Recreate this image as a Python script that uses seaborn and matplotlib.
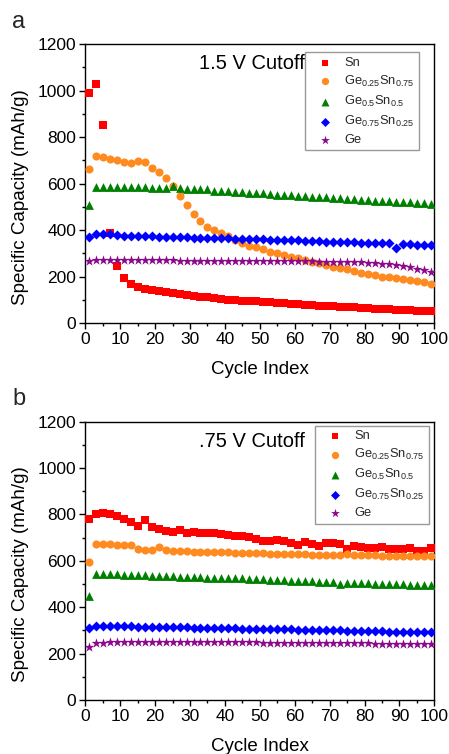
import numpy as np
import pandas as pd
import matplotlib
matplotlib.use("Agg")
import matplotlib.pyplot as plt
import seaborn as sns
from matplotlib.ticker import MultipleLocator

cycles = list(range(1, 100, 2))

# Panel a: 1.5 V cutoff
a_sn = [990, 1030, 850, 388, 245, 195, 170, 158, 148, 143, 138, 133, 130, 127, 122, 119, 115, 112, 108, 105,
        102, 100, 98, 96, 94, 92, 90, 88, 86, 84, 82, 80, 78, 76, 75, 73, 72, 70, 68, 67,
        65, 63, 62, 60, 59, 57, 56, 54, 53, 52]
a_g25 = [661, 720, 716, 707, 701, 694, 690, 699, 692, 666, 650, 626, 591, 548, 508, 469, 439, 415, 399, 386,
         375, 358, 346, 333, 326, 318, 308, 301, 292, 285, 279, 271, 265, 258, 251, 243, 236, 232, 226, 218,
         213, 209, 199, 199, 195, 189, 185, 181, 176, 170]
a_g50 = [510, 585, 585, 586, 586, 586, 585, 585, 584, 583, 582, 580, 588, 580, 579, 578, 577, 575, 570, 569,
         568, 566, 564, 562, 560, 558, 556, 553, 551, 550, 548, 546, 544, 542, 541, 539, 537, 535, 533, 531,
         528, 527, 526, 525, 523, 521, 520, 518, 516, 514]
a_g75 = [372, 382, 383, 382, 380, 377, 377, 376, 375, 374, 373, 372, 371, 370, 369, 368, 368, 367, 366, 366,
         365, 364, 363, 362, 362, 361, 360, 359, 358, 357, 356, 355, 354, 352, 351, 350, 350, 349, 348, 347,
         346, 345, 345, 344, 325, 340, 339, 338, 338, 336]
a_ge = [267, 270, 271, 272, 272, 271, 271, 271, 270, 270, 270, 270, 270, 269, 269, 269, 269, 269, 269, 268,
        268, 268, 268, 268, 268, 267, 267, 267, 267, 267, 266, 266, 266, 265, 265, 265, 264, 264, 263, 262,
        261, 259, 257, 254, 250, 245, 240, 235, 229, 222]

# Panel b: .75 V cutoff
b_sn = [779, 801, 805, 803, 795, 782, 769, 750, 776, 747, 736, 730, 723, 733, 722, 726, 719, 722, 719, 717,
        713, 707, 706, 704, 696, 687, 684, 690, 687, 678, 670, 683, 674, 666, 676, 678, 671, 652, 666, 661,
        656, 656, 659, 652, 652, 652, 654, 642, 643, 654]
b_g25 = [597, 673, 672, 672, 670, 669, 667, 650, 647, 645, 658, 645, 643, 642, 641, 640, 639, 638, 637, 636,
         636, 635, 634, 633, 632, 632, 631, 630, 630, 629, 628, 628, 627, 627, 626, 626, 625, 628, 624, 624,
         623, 623, 622, 622, 622, 621, 621, 620, 620, 619]
b_g50 = [450, 545, 543, 543, 543, 541, 539, 538, 539, 536, 535, 535, 534, 532, 531, 531, 530, 528, 528, 527,
         526, 525, 524, 523, 522, 521, 519, 518, 516, 515, 514, 512, 511, 510, 509, 508, 498, 506, 505, 504,
         503, 502, 501, 500, 499, 498, 497, 496, 495, 494]
b_g75 = [312, 317, 318, 318, 318, 317, 317, 316, 316, 315, 315, 314, 314, 313, 313, 312, 312, 311, 310, 310,
         309, 309, 308, 308, 307, 306, 306, 305, 305, 304, 303, 303, 302, 301, 301, 300, 300, 299, 298, 298,
         297, 296, 296, 295, 295, 294, 294, 293, 293, 292]
b_ge = [230, 246, 247, 248, 248, 248, 249, 249, 249, 249, 249, 249, 249, 249, 249, 249, 248, 248, 248, 248,
        248, 248, 248, 248, 248, 247, 247, 247, 247, 247, 246, 246, 246, 246, 245, 245, 245, 245, 244, 244,
        244, 243, 243, 243, 243, 242, 242, 242, 241, 241]

labels = ["Sn", "Ge$_{0.25}$Sn$_{0.75}$", "Ge$_{0.5}$Sn$_{0.5}$", "Ge$_{0.75}$Sn$_{0.25}$", "Ge"]
colors = ["#FF0000", "#FF8A1F", "#008000", "#0000FF", "#8B0A8B"]
markers = ["s", "o", "^", "D", "*"]
sizes = [26, 34, 40, 26, 55]

sns.set_theme(style="ticks")
plt.rcParams["font.family"] = ["Liberation Sans", "DejaVu Sans"]
plt.rcParams["mathtext.default"] = "regular"

fig = plt.figure(figsize=(4.49, 7.54), dpi=100)
ax_a = fig.add_axes([0.1900, 0.5712, 0.7773, 0.3704])
ax_b = fig.add_axes([0.1900, 0.0716, 0.7773, 0.3692])

panels = [
    (ax_a, [a_sn, a_g25, a_g50, a_g75, a_ge], "1.5 V Cutoff", (0.956, 0.970)),
    (ax_b, [b_sn, b_g25, b_g50, b_g75, b_ge], ".75 V Cutoff", (0.985, 0.985)),
]

for ax, series, title, lpos in panels:
    for vals, lab, col, mk, sz in zip(series, labels, colors, markers, sizes):
        df = pd.DataFrame({"cycle": cycles, "cap": vals})
        sns.scatterplot(data=df, x="cycle", y="cap", ax=ax, marker=mk, color=col,
                        s=sz, linewidth=0, label=lab, zorder=3)
    ax.set_xlim(0, 100)
    ax.set_ylim(0, 1200)
    ax.xaxis.set_major_locator(MultipleLocator(10))
    ax.xaxis.set_minor_locator(MultipleLocator(5))
    ax.yaxis.set_major_locator(MultipleLocator(200))
    ax.yaxis.set_minor_locator(MultipleLocator(100))
    ax.tick_params(which="major", direction="out", length=4, width=1, labelsize=12.5,
                   color="black", labelcolor="black", pad=2.5)
    ax.tick_params(which="minor", direction="out", length=2.2, width=1, color="black")
    for sp in ax.spines.values():
        sp.set_visible(True)
        sp.set_color("black")
        sp.set_linewidth(1)
    ax.set_xlabel("Cycle Index", fontsize=13.5, color="black")
    ax.set_ylabel("Specific Capacity (mAh/g)", fontsize=13.5, color="black")
    ax.xaxis.set_label_coords(0.5, -0.135)
    ax.yaxis.set_label_coords(-0.16, 0.453)
    ax.text(0.63, 0.93, title, transform=ax.transAxes, ha="right", va="center",
            fontsize=14.5, color="black")
    leg = ax.legend(loc="upper right", bbox_to_anchor=lpos, borderaxespad=0,
                    fontsize=9.3, frameon=True, fancybox=False, edgecolor="#808080",
                    handletextpad=0.3, labelspacing=0.38, borderpad=0.35,
                    handlelength=2.4, markerscale=0.9)
    leg.get_frame().set_linewidth(1)

fig.text(0.027, 0.9625, "a", fontsize=17, va="baseline", ha="left")
fig.text(0.027, 0.4629, "b", fontsize=17, va="baseline", ha="left")

fig.savefig("out.png", dpi=100)
